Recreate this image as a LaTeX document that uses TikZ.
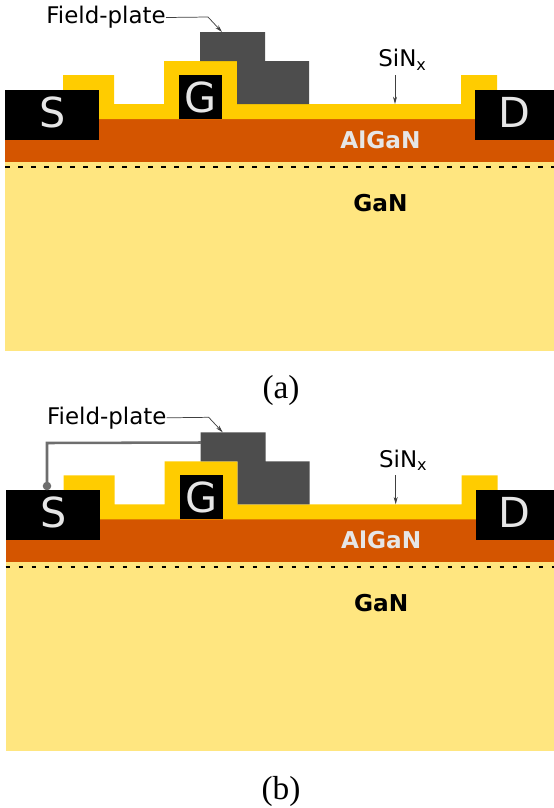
\documentclass[tikz,border=0pt]{standalone}
\usepackage{fontspec}
\setmainfont{DejaVu Sans}
\newfontfamily\capfont{Liberation Serif}
\usetikzlibrary{arrows.meta}
\definecolor{ganc}{HTML}{FFE680}
\definecolor{algan}{HTML}{D45500}
\definecolor{sinc}{HTML}{FFCC00}
\definecolor{fpc}{HTML}{4D4D4D}
\definecolor{lightt}{HTML}{E6E6E6}
\definecolor{wirec}{HTML}{6E6E6E}
\tikzset{
  x=0.75pt,y=-0.75pt,
  contact/.style={fill=black,inner sep=0pt,outer sep=0pt,anchor=north west},
  elec/.style={text=lightt,font=\fontsize{31}{33}\selectfont,inner sep=0pt},
  lab/.style={font=\fontsize{17.2}{19}\selectfont,inner sep=0pt,text=black},
  layername/.style={font=\fontsize{17.4}{19}\selectfont\bfseries,inner sep=0pt},
  pointer/.style={draw=black!75,line width=0.55pt,-{Stealth[length=5.5pt,width=3pt]}},
  capt/.style={font=\capfont\fontsize{25}{28}\selectfont,inner sep=0pt},
  wire/.style={draw=wirec,line width=1.9pt},
  hemt/.pic={
    \fill[ganc] (5,162) rectangle (554,351);
    \fill[algan] (5,119) rectangle (554,162);
    \fill[sinc] (63,119) -- (63,75) -- (114,75) -- (114,104) -- (164,104) -- (164,61) -- (237,61) -- (237,104) -- (461,104) -- (461,75) -- (497,75) -- (497,119) -- cycle;
    \node[coordinate] (fptop) at (222,32) {};
    \fill[fpc] (200,61) -- (200,32) -- (265,32) -- (265,61) -- (309,61) -- (309,104) -- (237,104) -- (237,61) -- cycle;
    \draw[black,line width=1.5pt,dash pattern=on 3.4pt off 6.35pt] (5,166.5) -- (554,166.5);
    \node[contact,minimum width=70.5pt,minimum height=37.5pt] (S) at (5,90) {};
    \node[contact,minimum width=32.25pt,minimum height=33pt] (G) at (179,75) {};
    \node[contact,minimum width=59.25pt,minimum height=37.5pt] (D) at (475,90) {};
    \node[elec] at (52.5,112.5) {S};
    \node[elec] at (200.5,97.5) {G};
    \node[elec] at (514,112.5) {D};
    \node[layername,text=lightt] at (380.5,140) {AlGaN};
    \node[layername,text=black] at (380.5,203) {GaN};
    \node[lab,anchor=east] (fplab) at (166,17.5) {Field-plate};
    \node[lab] (sinlab) at (402.5,60) {SiN\textsubscript{x}};
    \coordinate (sintop) at (395,75);
    \coordinate (sinbot) at (395,104);
    \coordinate (bend) at (208,17);
    \draw[pointer] (fplab.east) -- (bend) -- (fptop);
    \draw[pointer] (sintop) -- (sinbot);
  }
}
\begin{document}
\begin{tikzpicture}
\useasboundingbox (0,0) rectangle (554,808);
\pic (up) at (0,0) {hemt};
\pic (dn) at (0.7,400.3) {hemt};
\node[capt] (capa) at (281,390) {(a)};
\node[capt] (capb) at (281,791) {(b)};
\coordinate (wfp) at (201,442.5);
\coordinate (wcorner) at (47,443);
\coordinate (wend) at (47,486);
\draw[wire] (wfp) -- (wcorner) -- (wend);
\fill[wirec] (wend) circle (3.2pt);
\end{tikzpicture}
\end{document}
